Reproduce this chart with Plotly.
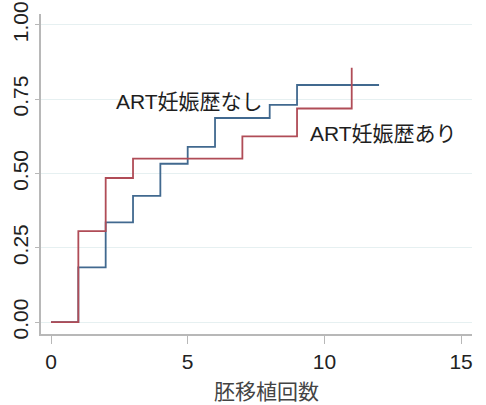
import plotly.graph_objects as go

# Cumulative proportion by number of embryo transfers (step functions)
transfers_none = [0, 1, 2, 3, 4, 5, 6, 8, 9, 12]
cum_none = [0.0, 0.184, 0.336, 0.425, 0.533, 0.590, 0.687, 0.731, 0.798, 0.798]

transfers_prior = [0, 1, 2, 3, 7, 9, 11]
cum_prior = [0.0, 0.306, 0.485, 0.550, 0.625, 0.719, 0.856]

label_none = "ART妊娠歴なし"
label_prior = "ART妊娠歴あり"

x_ticks = [0, 5, 10, 15]
y_ticks = [0, 0.25, 0.5, 0.75, 1.0]
y_tick_text = ["0.00", "0.25", "0.50", "0.75", "1.00"]
x_title = "胚移植回数"

FONT = "Liberation Sans, Arial, Noto Sans CJK JP, sans-serif"
BLUE = "#41698f"
RED = "#b04c57"

fig = go.Figure()
fig.add_trace(go.Scatter(x=transfers_none, y=cum_none, mode="lines",
                         line=dict(shape="hv", color=BLUE, width=1.8),
                         name=label_none, showlegend=False))
fig.add_trace(go.Scatter(x=transfers_prior, y=cum_prior, mode="lines",
                         line=dict(shape="hv", color=RED, width=1.8),
                         name=label_prior, showlegend=False))

fig.add_annotation(x=2.30, y=0.742, text=label_none, showarrow=False,
                   xanchor="left", yanchor="middle",
                   font=dict(family=FONT, size=21, color="#1e1e1e"))
fig.add_annotation(x=9.4, y=0.636, text=label_prior, showarrow=False,
                   xanchor="left", yanchor="middle",
                   font=dict(family=FONT, size=21, color="#1e1e1e"))
fig.add_annotation(x=0.524, y=-0.18, xref="paper", yref="paper",
                   text=x_title, showarrow=False,
                   xanchor="center", yanchor="middle",
                   font=dict(family=FONT, size=21, color="#444444"))

fig.update_xaxes(range=[-0.366, 15.40], tickvals=x_ticks, automargin=False,
                 showline=True, linecolor="#b8b8b8", linewidth=1.5,
                 ticks="outside", ticklen=8, tickcolor="#b8b8b8",
                 showgrid=False, zeroline=False,
                 tickfont=dict(family=FONT, size=21, color="#222222"))
fig.update_yaxes(range=[-0.040, 1.037], tickvals=y_ticks, ticktext=y_tick_text,
                 tickangle=-90, automargin=False, ticklabelstandoff=-1,
                 showline=True, linecolor="#b8b8b8", linewidth=1.5,
                 ticks="outside", ticklen=4, tickcolor="#b8b8b8",
                 showgrid=True, gridcolor="#e6f0f1", gridwidth=1.2,
                 zeroline=False,
                 tickfont=dict(family=FONT, size=21, color="#222222"))

fig.update_layout(width=486, height=405,
                  margin=dict(l=41, r=14, t=14, b=71),
                  plot_bgcolor="white", paper_bgcolor="white")

fig.write_html("out.html")
